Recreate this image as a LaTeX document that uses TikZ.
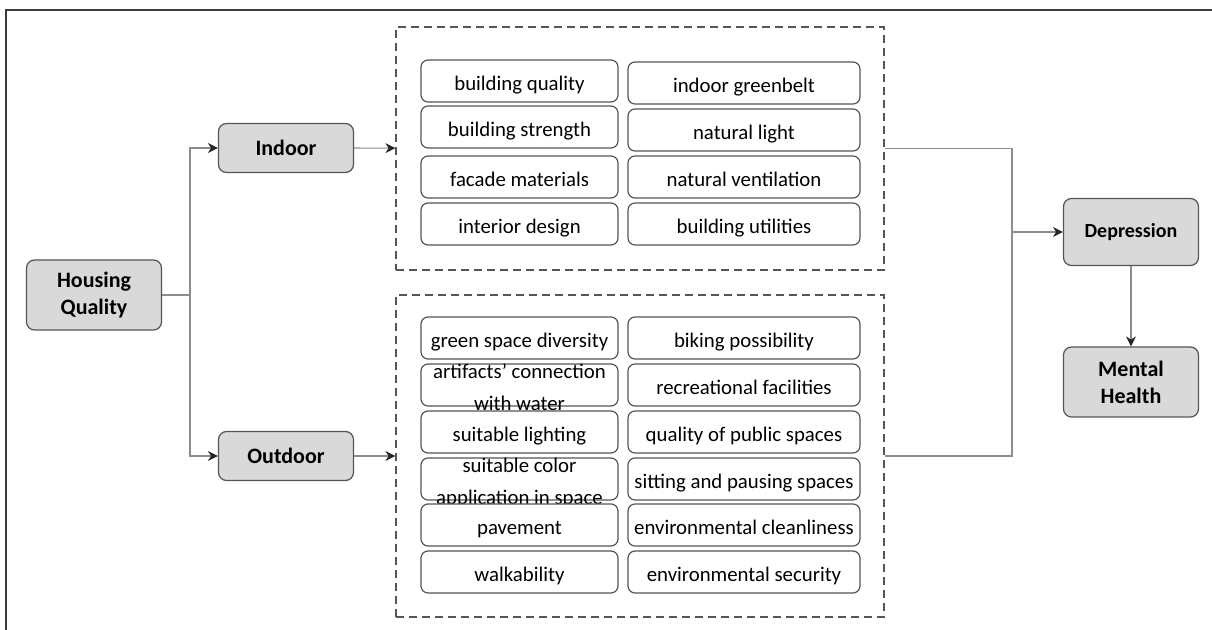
\documentclass[tikz,border=0pt]{standalone}
\usepackage{fontspec}
\setmainfont{Carlito}
\usetikzlibrary{arrows.meta,positioning,calc}
\definecolor{boxgray}{RGB}{217,217,217}
\definecolor{edgegray}{RGB}{85,85,85}
\definecolor{linegray}{RGB}{140,140,140}
\definecolor{framegray}{RGB}{60,60,60}

% two lines that may spill over the item box
\newcommand{\spill}[2]{\smash{\begin{tabular}{@{}c@{}}#1\\[3.5pt]#2\end{tabular}}}

\tikzset{
  mainbox/.style={rectangle, rounded corners=4pt, draw=edgegray, fill=boxgray, line width=0.6pt,
    minimum width=67.5pt, align=center, font=\fontsize{11}{13.5}\selectfont\bfseries},
  item/.style={rectangle, rounded corners=3.5pt, draw=edgegray, fill=white, line width=0.6pt,
    minimum height=21pt, inner sep=0pt, text height=10pt, text depth=0.8pt,
    font=\fontsize{10.4}{12.5}\selectfont},
  itemL/.style={item, minimum width=98.5pt},
  itemR/.style={item, minimum width=116pt},
  group/.style={rectangle, draw=edgegray, line width=0.6pt, dash pattern=on 4pt off 2.5pt, minimum width=244pt},
  link/.style={draw=linegray, line width=0.6pt},
  arr/.style={link, -{Stealth[length=5pt, width=5pt, inset=1.6pt, color=black!85]}}
}

\begin{document}
\begin{tikzpicture}[x=0.5pt, y=-0.5pt]
\useasboundingbox (0,0) rectangle (1212,630);
\draw[framegray, line width=1pt] (6,630) -- (6,10) -- (1212,10);

% main boxes
\node[mainbox, minimum height=35pt] (hq) at (94,295) {Housing\\Quality};
\node[mainbox, minimum height=24.5pt] (indoor) at (286,148) {Indoor};
\node[mainbox, minimum height=24.5pt] (outdoor) at (286,456) {Outdoor};
\node[mainbox, minimum height=33.5pt, font=\fontsize{10}{12}\selectfont\bfseries] (depr) at (1131,232) {Depression};
\node[mainbox, minimum height=35pt] (mh) at (1131,382) {Mental\\Health};

% indoor factors
\node[group, minimum height=121.5pt] (indoorset) at (640,148.5) {};
\node[itemL] (in1) at (519.5,81) {building quality};
\node[itemL] (in2) at (519.5,127) {building strength};
\node[itemL] (in3) at (519.5,177) {facade materials};
\node[itemL] (in4) at (519.5,224) {interior design};
\node[itemR] (in5) at (744,83) {indoor greenbelt};
\node[itemR] (in6) at (744,130) {natural light};
\node[itemR] (in7) at (744,177) {natural ventilation};
\node[itemR] (in8) at (744,224) {building utilities};

% outdoor factors
\node[group, minimum height=161pt] (outdoorset) at (640,456) {};
\node[itemL] (out1) at (519.5,338) {green space diversity};
\node[itemL] (out2) at (519.5,385) {\spill{artifacts' connection}{with water}};
\node[itemL] (out3) at (519.5,432) {suitable lighting};
\node[itemL] (out4) at (519.5,479) {\spill{suitable color}{application in space}};
\node[itemL] (out5) at (519.5,525) {pavement};
\node[itemL] (out6) at (519.5,572) {walkability};
\node[itemR] (out7) at (744,338) {biking possibility};
\node[itemR] (out8) at (744,385) {recreational facilities};
\node[itemR] (out9) at (744,432) {quality of public spaces};
\node[itemR] (out10) at (744,479) {sitting and pausing spaces};
\node[itemR] (out11) at (744,525) {environmental cleanliness};
\node[itemR] (out12) at (744,572) {environmental security};

% connectors
\coordinate (split) at (190,295);
\coordinate (merge) at (1012,232);
\draw[link] (hq) -- (split);
\draw[arr] (split) |- (indoor);
\draw[arr] (split) |- (outdoor);
\draw[arr] (indoor) -- (indoorset);
\draw[arr] (outdoor) -- (outdoorset);
\draw[link] (indoorset.east) -| (merge) |- (outdoorset.east);
\draw[arr] (merge) -- (depr);
\draw[arr] (depr) -- (mh);
\end{tikzpicture}
\end{document}
